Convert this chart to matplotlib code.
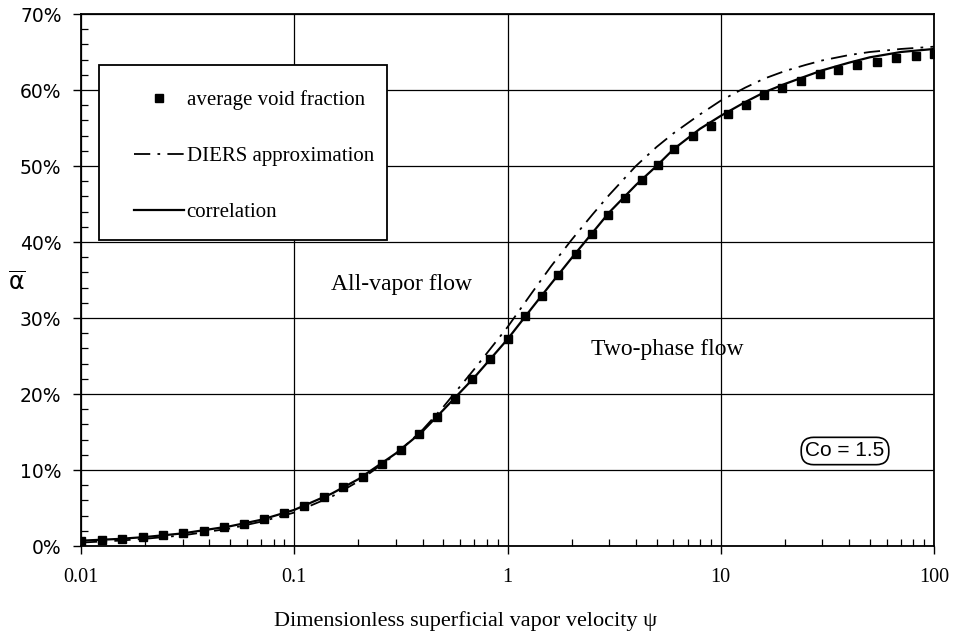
import numpy as np
import matplotlib
matplotlib.use("Agg")
import matplotlib.pyplot as plt
from matplotlib.ticker import FixedLocator, LogLocator, NullFormatter
from matplotlib.patches import Rectangle

# measured average void fraction (markers)
psi_pts = [0.01, 0.0125, 0.0156, 0.0195, 0.0243, 0.0302, 0.0377, 0.0468, 0.058, 0.072,
           0.09, 0.111, 0.138, 0.170, 0.211, 0.257, 0.316, 0.385, 0.465, 0.567,
           0.684, 0.828, 1.002, 1.208, 1.446, 1.731, 2.087, 2.48, 2.95, 3.56,
           4.26, 5.10, 6.06, 7.39, 9.0, 10.78, 13.09, 15.96, 19.45, 23.8,
           29.1, 35.6, 43.7, 53.8, 66.3, 82.1, 100]
alpha_pts = [0.66, 0.8, 0.96, 1.14, 1.4, 1.67, 2.0, 2.45, 2.9, 3.55,
             4.3, 5.3, 6.4, 7.8, 9.1, 10.8, 12.6, 14.7, 17.0, 19.4,
             22.0, 24.6, 27.2, 30.2, 32.9, 35.7, 38.4, 41.1, 43.6, 45.8,
             48.1, 50.1, 52.2, 53.9, 55.3, 56.8, 58.0, 59.3, 60.3, 61.2,
             62.1, 62.6, 63.3, 63.7, 64.2, 64.5, 64.8]

# curves
psi_line = [0.01, 0.015, 0.02, 0.03, 0.05, 0.07, 0.1, 0.15, 0.2, 0.3, 0.4, 0.5, 0.7,
            1, 1.3, 1.6, 2, 2.5, 3, 4, 5, 6, 8, 10, 13, 16, 20, 25, 30, 40, 50, 70, 100]
alpha_corr = [0.7, 0.93, 1.18, 1.66, 2.6, 3.45, 4.75, 6.9, 8.8, 12.2, 15.1, 17.9, 22.2,
              27.2, 31.3, 34.5, 37.9, 41.2, 43.9, 47.5, 50.0, 52.2, 54.9, 56.6, 58.4,
              59.7, 60.8, 61.8, 62.6, 63.6, 64.3, 65.0, 65.4]
alpha_diers = [0.45, 0.7, 0.95, 1.4, 2.3, 3.2, 4.4, 6.5, 8.5, 12.1, 15.3, 18.3, 23.3,
               28.8, 33.3, 36.8, 40.3, 43.6, 46.2, 50.0, 52.5, 54.3, 56.8, 58.6, 60.3,
               61.5, 62.5, 63.3, 63.9, 64.6, 65.0, 65.4, 65.7]

xticks = [0.01, 0.1, 1, 10, 100]
xticklabels = ["0.01", "0.1", "1", "10", "100"]
yticks = [0, 10, 20, 30, 40, 50, 60, 70]

serif = "Liberation Serif"
W, H = 955, 643
plt.rcParams["mathtext.fontset"] = "dejavusans"

fig = plt.figure(figsize=(9.55, 6.43), dpi=100)
ax = fig.add_axes([81 / W, 1 - 546 / H, (934 - 81) / W, (546 - 14) / H])

ax.set_xscale("log")
ax.set_xlim(0.01, 100)
ax.set_ylim(0, 70)

ax.grid(True, which="major", color="black", lw=0.9)
ax.set_axisbelow(True)

sq, = ax.plot(psi_pts, alpha_pts, ls="none", marker="s", ms=6, color="black",
              label="average void fraction", zorder=4)
dl, = ax.plot(psi_line, alpha_diers, color="black", lw=1.3, ls=(0, (9, 4, 1.5, 4)),
              label="DIERS approximation", zorder=3)
cl, = ax.plot(psi_line, alpha_corr, color="black", lw=1.6, label="correlation", zorder=3)

ax.xaxis.set_major_locator(FixedLocator(xticks))
ax.set_xticklabels(xticklabels, fontfamily=serif, fontsize=14.5)
ax.xaxis.set_minor_locator(LogLocator(base=10, subs=np.arange(2, 10)))
ax.xaxis.set_minor_formatter(NullFormatter())
ax.set_yticks(yticks)
ax.set_yticklabels(["%d%%" % v for v in yticks], fontfamily="DejaVu Sans", fontsize=13.5)
ax.set_yticks(np.arange(0, 71, 2), minor=True)
ax.tick_params(which="major", direction="out", length=6, width=1)
ax.tick_params(axis="x", which="major", pad=10)
ax.tick_params(axis="y", which="major", pad=8)
ax.tick_params(which="minor", direction="in", length=5, width=0.9)
for s in ax.spines.values():
    s.set_linewidth(1.3)

# legend box
rect = Rectangle((99 / W, 1 - 240 / H), 288 / W, 175 / H, transform=fig.transFigure,
                 facecolor="white", edgecolor="black", lw=1.3, zorder=10)
fig.patches.append(rect)
leg = fig.legend(handles=[sq, dl, cl], loc="upper left",
                 bbox_to_anchor=(124 / W, 1 - 80 / H), frameon=False,
                 prop={"family": serif, "size": 15}, handlelength=2.4,
                 handletextpad=0.1, labelspacing=1.75, borderpad=0, numpoints=1)
leg.set_zorder(11)

fig.text(401 / W, 1 - 284 / H, "All-vapor flow", fontfamily=serif, fontsize=17,
         ha="center", va="center")
fig.text(667 / W, 1 - 350 / H, "Two-phase flow", fontfamily=serif, fontsize=17,
         ha="center", va="center")
fig.text(845 / W, 1 - 451 / H, "Co = 1.5", fontfamily="Liberation Sans", fontsize=15,
         ha="center", va="center",
         bbox=dict(boxstyle="round,pad=0.2,rounding_size=0.6", fc="white", ec="black", lw=1.2))

fig.text(17 / W, 1 - 283 / H, r"$\overline{\mathrm{\alpha}}$", fontsize=17,
         ha="center", va="center")
fig.text(466 / W, 1 - 621 / H, "Dimensionless superficial vapor velocity \u03c8",
         fontfamily=serif, fontsize=16, ha="center", va="center")

fig.savefig("out.png", dpi=100)
